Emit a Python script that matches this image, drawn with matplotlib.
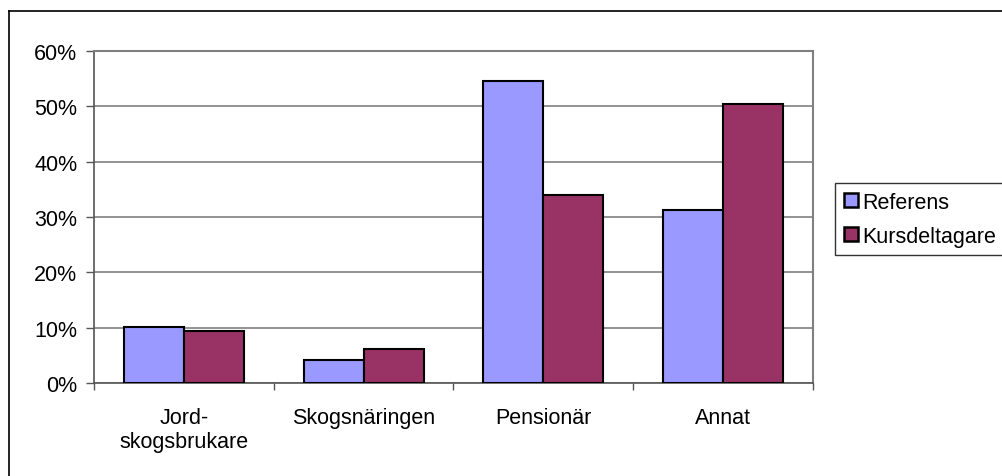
import numpy as np
import matplotlib
matplotlib.use("Agg")
import matplotlib.pyplot as plt
from matplotlib.lines import Line2D
from matplotlib.patches import Patch
from matplotlib.ticker import FixedLocator, FuncFormatter

plt.rcParams['font.family'] = ['Liberation Sans', 'DejaVu Sans']

# data
categories = ["Jord-\nskogsbrukare", "Skogsnäringen", "Pensionär", "Annat"]
referens = [10.1, 4.2, 54.5, 31.3]
kursdeltagare = [9.4, 6.1, 34.0, 50.4]
series_names = ["Referens", "Kursdeltagare"]
colors = ["#9999FF", "#993366"]

FS = 15.5
W, H = 1003, 477
fig = plt.figure(figsize=(W / 100, H / 100), dpi=100)
ax = fig.add_axes([94 / W, (H - 384) / H, 719 / W, 332 / H])

x = np.arange(len(categories))
bw = 1 / 3
ax.bar(x - bw / 2, referens, bw, color=colors[0], edgecolor="black", linewidth=1.5, zorder=3)
ax.bar(x + bw / 2, kursdeltagare, bw, color=colors[1], edgecolor="black", linewidth=1.5, zorder=3)

ax.set_xlim(-0.5, len(categories) - 0.5)
ax.set_ylim(0, 60)
ax.set_yticks(np.arange(0, 61, 10))
ax.yaxis.set_major_formatter(FuncFormatter(lambda v, p: f"{v:.0f}%"))
ax.grid(axis="y", color="#808080", linewidth=1.2, zorder=0)

ax.set_xticks(x)
ax.set_xticklabels(categories, linespacing=1.2)
ax.xaxis.set_minor_locator(FixedLocator(np.arange(-0.5, len(categories), 1)))
ax.tick_params(axis="x", which="major", length=0, pad=17, labelsize=FS)
ax.tick_params(axis="x", which="minor", length=5, width=1, color="#555555", direction="out")
ax.tick_params(axis="y", length=6, width=1, color="#555555", pad=6, labelsize=FS)

for side in ["top", "right"]:
    ax.spines[side].set_color("#808080")
    ax.spines[side].set_linewidth(1.5)
for side in ["left", "bottom"]:
    ax.spines[side].set_color("#555555")
    ax.spines[side].set_linewidth(1.2)

# outer chart frame
fig.add_artist(Line2D([9 / W, 1.0], [1 - 12 / H, 1 - 12 / H], transform=fig.transFigure, color="black", linewidth=1.2))
fig.add_artist(Line2D([9 / W, 9 / W], [0, 1 - 12 / H], transform=fig.transFigure, color="black", linewidth=1.2))

handles = [Patch(facecolor=c, edgecolor="black", linewidth=1.8) for c in colors]
leg = fig.legend(handles, series_names, loc="upper left", bbox_to_anchor=(835 / W, 1 - 184 / H),
                 frameon=True, fancybox=False, edgecolor="black", fontsize=FS,
                 handlelength=0.65, handleheight=0.65, handletextpad=0.2,
                 borderpad=0.4, labelspacing=0.6, borderaxespad=0)
leg.get_frame().set_linewidth(1.0)

fig.savefig("out.png", dpi=100)
